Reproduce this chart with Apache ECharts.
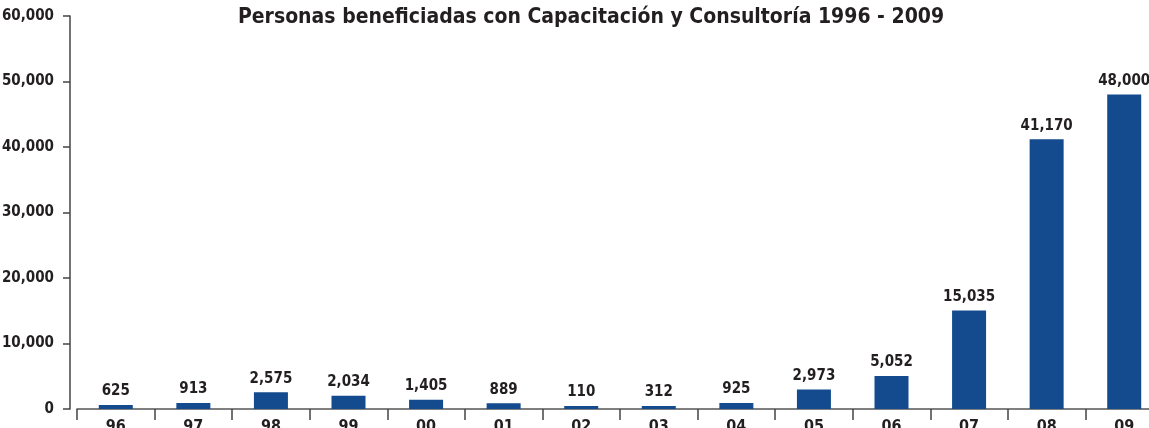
<!DOCTYPE html>
<html><head><meta charset="utf-8">
<script src="https://cdn.jsdelivr.net/npm/echarts@6/dist/echarts.min.js"></script>
<style>html,body{margin:0;padding:0;background:#fff}#c{width:1149px;height:428px}</style>
</head><body><div id="c"></div>
<script>
const categories = ['96','97','98','99','00','01','02','03','04','05','06','07','08','09'];
const values = [625, 913, 2575, 2034, 1405, 889, 110, 312, 925, 2973, 5052, 15035, 41170, 48000];
const yTicks = {min: 0, max: 60000, interval: 10000};
const titleText = 'Personas beneficiadas con Capacitación y Consultoría 1996 - 2009';

const FONT = '"Liberation Sans Narrow", "DejaVu Sans Condensed", "Arial Narrow", sans-serif';
const TXT = '#231f20';
const chart = echarts.init(document.getElementById('c'), null, {renderer: 'canvas'});
chart.setOption({
  animation: false,
  title: {
    text: titleText, left: 586, textAlign: 'center', top: 2,
    textStyle: {fontFamily: FONT, fontWeight: 'bold', fontSize: 21, color: TXT}
  },
  grid: {left: 77, right: -14, top: 16, bottom: 19, containLabel: false, outerBoundsMode: 'none'},
  xAxis: {
    type: 'category', data: categories, boundaryGap: true,
    axisLine: {lineStyle: {color: '#555', width: 1.5}},
    axisTick: {show: true, length: 11, lineStyle: {color: '#444', width: 1.5}},
    axisLabel: {fontFamily: FONT, fontWeight: 'bold', fontSize: 16, color: TXT, margin: 10}
  },
  yAxis: {
    type: 'value', min: yTicks.min, max: yTicks.max, interval: yTicks.interval, offset: 7,
    splitLine: {show: false},
    axisLine: {show: true, lineStyle: {color: '#444', width: 1.5}},
    axisTick: {show: true, length: 7, lineStyle: {color: '#444', width: 1.5}},
    axisLabel: {fontFamily: FONT, fontWeight: 'bold', fontSize: 15, color: TXT, margin: 16,
      formatter: v => v.toLocaleString('en-US')}
  },
  series: [{
    type: 'bar', data: values, barWidth: 34, barMinHeight: 3,
    itemStyle: {color: '#134b8e'},
    label: {show: true, position: 'top', distance: 6, fontFamily: FONT, fontWeight: 'bold',
      fontSize: 15, color: TXT, formatter: p => p.value.toLocaleString('en-US')}
  }]
});
</script></body></html>
